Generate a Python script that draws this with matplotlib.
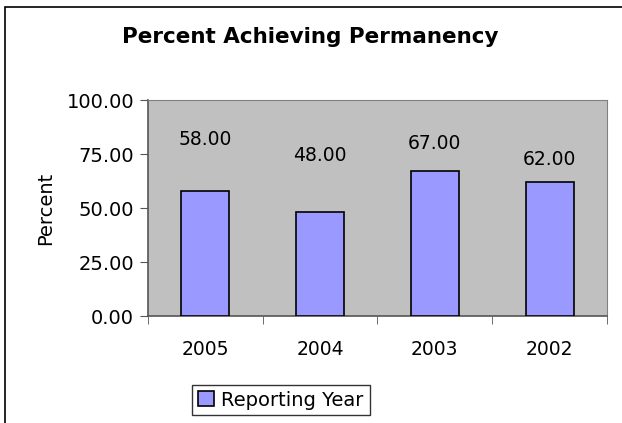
import matplotlib.pyplot as plt
from matplotlib.patches import Rectangle

# data
years = ["2005", "2004", "2003", "2002"]
percent = [58.00, 48.00, 67.00, 62.00]
# where Excel put the value labels (data units)
label_y = [81.5, 74.5, 80.0, 72.5]
yticks = [0, 25, 50, 75, 100]

plt.rcParams['font.family'] = ['DejaVu Sans']

fig = plt.figure(figsize=(6.22, 4.23), dpi=100)
fig.patches.append(Rectangle((5 / 622, -0.05), 1.1, 1.05 - 7 / 423, transform=fig.transFigure,
                             fill=False, edgecolor='black', linewidth=1.2))

ax = fig.add_axes([148 / 622, 1 - 316 / 423, 459 / 622, 216 / 423])
ax.set_facecolor('#C0C0C0')

x = range(len(years))
bars = ax.bar(x, percent, width=0.42, color='#9999FF', edgecolor='black', linewidth=1.2,
              label='Reporting Year', zorder=3)
for i, v in enumerate(percent):
    ax.text(i, label_y[i], "%.2f" % v, ha='center', va='center', fontsize=13.5)

ax.set_xlim(-0.5, len(years) - 0.5)
ax.set_ylim(0, 100)
ax.set_yticks(yticks)
ax.set_yticklabels(["%.2f" % t for t in yticks], fontsize=14)
ax.set_xticks(list(x))
ax.set_xticklabels(years, fontsize=13.5)
ax.tick_params(axis='x', length=0, pad=17)
ax.set_xticks([i + 0.5 for i in range(-1, len(years))], minor=True)
ax.tick_params(axis='x', which='minor', length=6, color='#555555')
ax.tick_params(axis='y', length=6, color='#555555', pad=4)

for s in ['top', 'right']:
    ax.spines[s].set_color('#808080')
for s in ['left', 'bottom']:
    ax.spines[s].set_color('#555555')
    ax.spines[s].set_linewidth(1.2)

ax.set_ylabel("Percent", fontsize=14, labelpad=8)
fig.text(310 / 622, 1 - 37 / 423, "Percent Achieving Permanency", ha='center', va='center',
         fontsize=15.5, fontweight='bold')

leg = fig.legend(handles=[bars], labels=['Reporting Year'], loc='center',
                 bbox_to_anchor=(281 / 622, 1 - 400 / 423), fontsize=14, frameon=True,
                 fancybox=False, edgecolor='black', handlelength=0.8, handleheight=0.8,
                 handletextpad=0.4, borderpad=0.3)
leg.get_frame().set_linewidth(1.0)

fig.savefig("out.png", dpi=100)
